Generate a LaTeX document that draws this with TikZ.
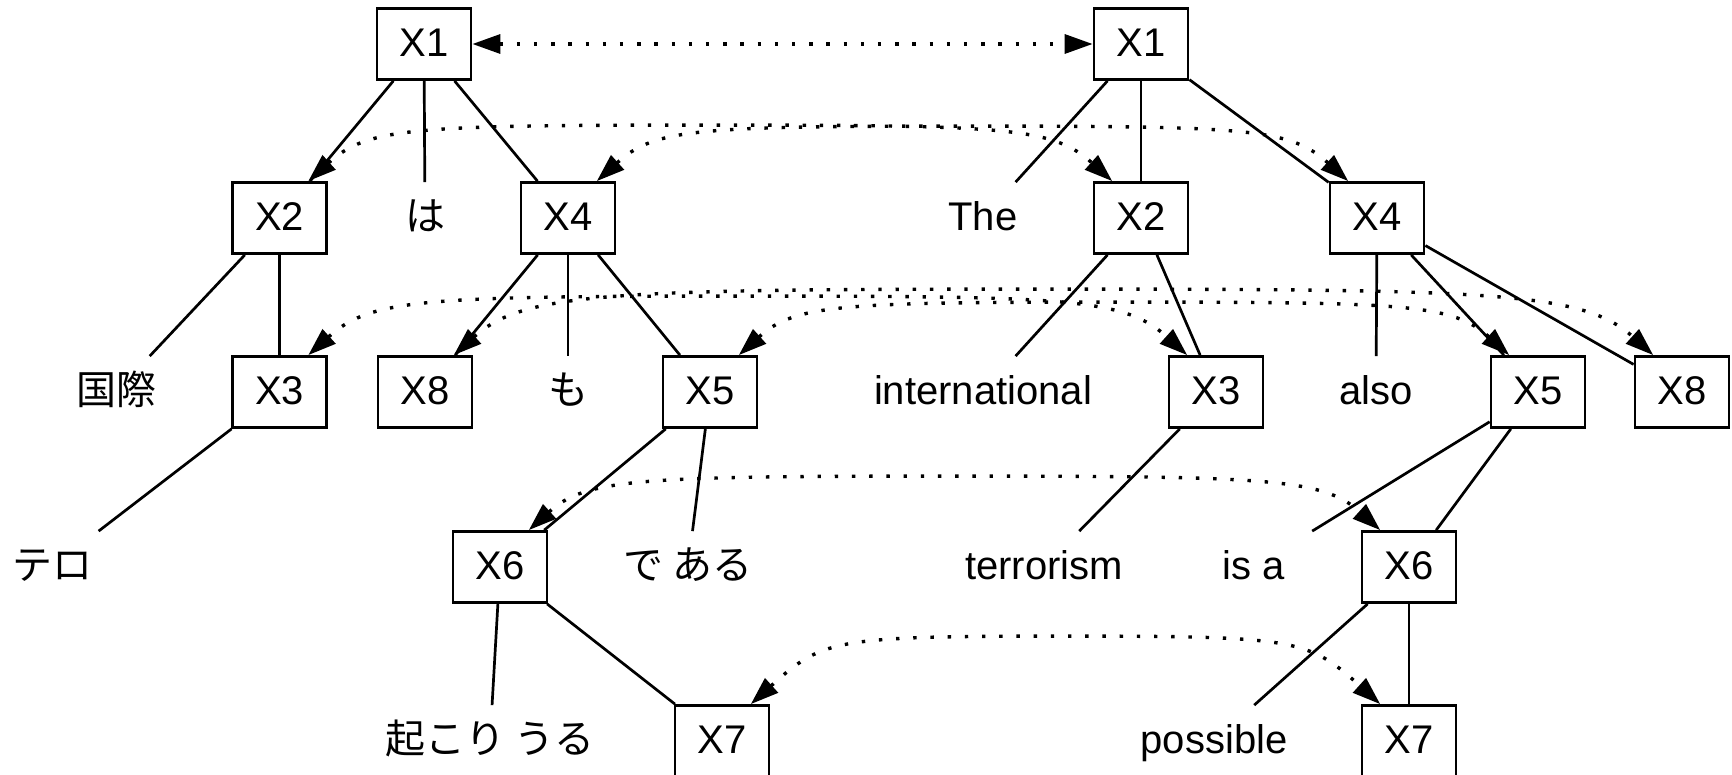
\documentclass[tikz,border=0pt]{standalone}
\usepackage{fontspec}
\setmainfont{Liberation Sans}
\newfontfamily\jpfont{Noto Sans CJK JP}
\usetikzlibrary{arrows.meta,calc}
\newcommand\pairlink[5]{%
  \coordinate (#1peak) at ($(#1.52)!0.5!(#2.128)+(0,#3)$);
  \draw[link] (#1.52) .. controls +(42:#4) and +(-#5,0) .. (#1peak)
    .. controls +(#5,0) and +(138:#4) .. (#2.128);}
\begin{document}
\begin{tikzpicture}[x=0.5pt,y=0.5pt,
  font=\fontsize{20}{24}\selectfont,
  box/.style={draw, line width=1.4pt, minimum width=47pt, minimum height=35.5pt,
    inner sep=0pt, text height=13.3pt, text depth=0.5pt},
  word/.style={minimum width=65pt, minimum height=35.5pt, inner sep=0pt,
    text height=13.3pt, text depth=0.5pt},
  jword/.style={word, font=\fontsize{20}{24}\selectfont\jpfont},
  edge/.style={line width=1.35pt},
  link/.style={line width=1.7pt, dash pattern=on 1.7pt off 6.9pt,
    {Triangle[length=14pt,width=9.5pt]}-{Triangle[length=14pt,width=9.5pt]}},
]
\useasboundingbox (0,0) rectangle (1732,-775);

% left tree
\node[box] (X1l) at (424,-44) {X1};
\node[box] (X2l) at (279.5,-218) {X2};
\node[jword] (ha) at (425,-218) {は};
\node[box] (X4l) at (568,-218) {X4};
\node[jword] (kokusai) at (116,-392) {国際};
\node[box] (X3l) at (279.5,-392) {X3};
\node[box] (X8l) at (425,-392) {X8};
\node[jword] (mo) at (568,-392) {も};
\node[box] (X5l) at (710,-392) {X5};
\node[jword] (tero) at (52,-567) {テロ};
\node[box] (X6l) at (500,-567) {X6};
\node[jword] (dearu) at (688,-567) {で ある};
\node[jword] (okoriuru) at (490,-741) {起こり うる};
\node[box] (X7l) at (722,-741) {X7};

% right tree
\node[box] (X1r) at (1141,-44) {X1};
\node[word] (the) at (983,-218) {The};
\node[box] (X2r) at (1141,-218) {X2};
\node[box] (X4r) at (1377,-218) {X4};
\node[word] (intl) at (983,-392) {international};
\node[box] (X3r) at (1216,-392) {X3};
\node[word] (also) at (1376,-392) {also};
\node[box] (X5r) at (1538,-392) {X5};
\node[box] (X8r) at (1682,-392) {X8};
\node[word] (terr) at (1044,-567) {terrorism};
\node[word] (isa) at (1254,-567) {is a};
\node[box] (X6r) at (1409,-567) {X6};
\node[word] (poss) at (1214,-741) {possible};
\node[box] (X7r) at (1409,-741) {X7};

% solid tree edges
\draw[edge] (X1l) -- (X2l);
\draw[edge] (X1l) -- (ha);
\draw[edge] (X1l) -- (X4l);
\draw[edge] (X2l) -- (kokusai);
\draw[edge] (X2l) -- (X3l);
\draw[edge] (X4l) -- (X8l);
\draw[edge] (X4l) -- (mo);
\draw[edge] (X4l) -- (X5l);
\draw[edge] (X3l) -- (tero);
\draw[edge] (X5l) -- (X6l);
\draw[edge] (X5l) -- (dearu);
\draw[edge] (X6l) -- (okoriuru);
\draw[edge] (X6l) -- (X7l);

\draw[edge] (X1r) -- (the);
\draw[edge] (X1r) -- (X2r);
\draw[edge] (X1r) -- (X4r);
\draw[edge] (X2r) -- (intl);
\draw[edge] (X2r) -- (X3r);
\draw[edge] (X4r) -- (also);
\draw[edge] (X4r) -- (X5r);
\draw[edge] (X4r) -- (X8r);
\draw[edge] (X3r) -- (terr);
\draw[edge] (X5r) -- (isa);
\draw[edge] (X5r) -- (X6r);
\draw[edge] (X6r) -- (poss);
\draw[edge] (X6r) -- (X7r);

% dotted alignment links
\draw[link] (X1l) -- (X1r);
\pairlink{X2l}{X2r}{56}{80}{300}
\pairlink{X4l}{X4r}{55}{78}{280}
\pairlink{X3l}{X3r}{59}{84}{326}
\pairlink{X8l}{X8r}{66}{94}{444}
\pairlink{X5l}{X5r}{53}{76}{284}
\pairlink{X6l}{X6r}{54}{77}{316}
\pairlink{X7l}{X7r}{68}{97}{233}
\end{tikzpicture}
\end{document}
